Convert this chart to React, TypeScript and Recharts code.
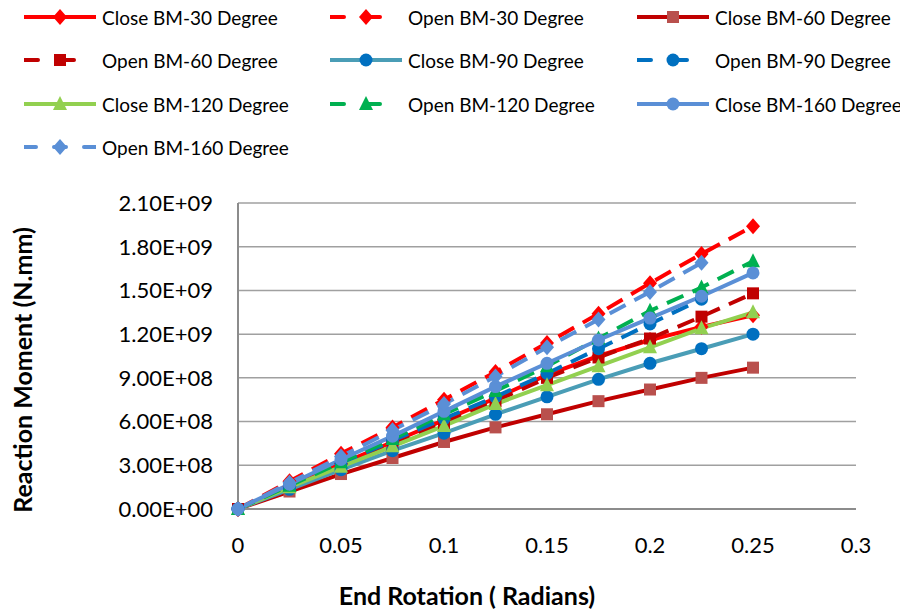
import React from "react";
import { CartesianGrid, Line, LineChart, XAxis, YAxis } from "recharts";

// end rotation (radians) for each load step
const rotation = [0, 0.025, 0.05, 0.075, 0.1, 0.125, 0.15, 0.175, 0.2, 0.225, 0.25];

// reaction moment (N.mm)
const closeBM30 = [0, 1.55e8, 3.1e8, 4.6e8, 6.1e8, 7.6e8, 9.2e8, 1.05e9, 1.16e9, 1.25e9, 1.33e9];
const openBM30 = [0, 1.9e8, 3.8e8, 5.6e8, 7.5e8, 9.4e8, 1.14e9, 1.34e9, 1.55e9, 1.75e9, 1.94e9];
const closeBM60 = [0, 1.2e8, 2.4e8, 3.5e8, 4.6e8, 5.6e8, 6.5e8, 7.4e8, 8.2e8, 9.0e8, 9.7e8];
const openBM60 = [0, 1.5e8, 2.9e8, 4.4e8, 5.9e8, 7.4e8, 9.0e8, 1.04e9, 1.17e9, 1.32e9, 1.48e9];
const closeBM90 = [0, 1.35e8, 2.7e8, 4.0e8, 5.2e8, 6.5e8, 7.7e8, 8.9e8, 1.0e9, 1.1e9, 1.2e9];
const openBM90 = [0, 1.6e8, 3.1e8, 4.7e8, 6.2e8, 7.7e8, 9.3e8, 1.1e9, 1.27e9, 1.44e9, null];
const closeBM120 = [0, 1.5e8, 2.9e8, 4.3e8, 5.7e8, 7.2e8, 8.5e8, 9.8e8, 1.11e9, 1.24e9, 1.35e9];
const openBM120 = [0, 1.6e8, 3.2e8, 4.8e8, 6.5e8, 8.1e8, 9.8e8, 1.17e9, 1.36e9, 1.52e9, 1.7e9];
const closeBM160 = [0, 1.7e8, 3.4e8, 5.0e8, 6.7e8, 8.4e8, 1.0e9, 1.16e9, 1.31e9, 1.46e9, 1.62e9];
const openBM160 = [0, 1.8e8, 3.6e8, 5.4e8, 7.2e8, 9.1e8, 1.11e9, 1.3e9, 1.49e9, 1.69e9, null];

const xTicks = [0, 0.05, 0.1, 0.15, 0.2, 0.25, 0.3];
const yTicks = [0, 3e8, 6e8, 9e8, 1.2e9, 1.5e9, 1.8e9, 2.1e9];
const xMinorTicks = Array.from({ length: 31 }, (_, i) => i / 100);
const yMinorTicks = Array.from({ length: 36 }, (_, i) => i * 6e7);

type Shape = "diamond" | "square" | "circle" | "triangle";

type SeriesDef = {
  key: string;
  name: string;
  values: (number | null)[];
  color: string;
  marker: string;
  shape: Shape;
  dashed?: boolean;
};

const series: SeriesDef[] = [
  { key: "c30", name: "Close BM-30 Degree", values: closeBM30, color: "#ff0000", marker: "#ff0000", shape: "diamond" },
  { key: "o30", name: "Open BM-30 Degree", values: openBM30, color: "#ff0000", marker: "#ff0000", shape: "diamond", dashed: true },
  { key: "c60", name: "Close BM-60 Degree", values: closeBM60, color: "#c00000", marker: "#b9504d", shape: "square" },
  { key: "o60", name: "Open BM-60 Degree", values: openBM60, color: "#c00000", marker: "#c00000", shape: "square", dashed: true },
  { key: "c90", name: "Close BM-90 Degree", values: closeBM90, color: "#4a9db6", marker: "#0070c0", shape: "circle" },
  { key: "o90", name: "Open BM-90 Degree", values: openBM90, color: "#0070c0", marker: "#0070c0", shape: "circle", dashed: true },
  { key: "c120", name: "Close BM-120 Degree", values: closeBM120, color: "#92d050", marker: "#92d050", shape: "triangle" },
  { key: "o120", name: "Open BM-120 Degree", values: openBM120, color: "#00b050", marker: "#00b050", shape: "triangle", dashed: true },
  { key: "c160", name: "Close BM-160 Degree", values: closeBM160, color: "#5a8fd6", marker: "#5a8fd6", shape: "circle" },
  { key: "o160", name: "Open BM-160 Degree", values: openBM160, color: "#5a8fd6", marker: "#5a8fd6", shape: "diamond", dashed: true },
];

const data = rotation.map((x, i) => {
  const row: Record<string, number | null> = { x };
  series.forEach((s) => {
    row[s.key] = s.values[i];
  });
  return row;
});

const FONT = "Lato, 'Open Sans', sans-serif";
const AXIS = "#8c8c8c";

function fmtSci(v: number) {
  const [m, e] = v.toExponential(2).split("e");
  const n = Math.abs(Number(e));
  return `${m}E${Number(e) < 0 ? "-" : "+"}${n < 10 ? "0" + n : n}`;
}

function Marker({ cx, cy, shape, fill }: { cx?: number; cy?: number; shape: Shape; fill: string }) {
  if (cx == null || cy == null || isNaN(cx) || isNaN(cy)) return null;
  if (shape === "diamond")
    return <path d={`M${cx},${cy - 8}L${cx + 7},${cy}L${cx},${cy + 8}L${cx - 7},${cy}Z`} fill={fill} />;
  if (shape === "square") return <rect x={cx - 6} y={cy - 6} width={12} height={12} fill={fill} />;
  if (shape === "triangle") return <path d={`M${cx},${cy - 8}L${cx + 7},${cy + 6}L${cx - 7},${cy + 6}Z`} fill={fill} />;
  return <circle cx={cx} cy={cy} r={6.5} fill={fill} />;
}

const legendCols = [24, 330, 637];
const legendRows = [17, 60, 104, 147];

function LegendIcon({ s }: { s: SeriesDef }) {
  return (
    <svg width={72} height={24} style={{ display: "block" }}>
      <line
        x1={0}
        y1={12}
        x2={72}
        y2={12}
        stroke={s.color}
        strokeWidth={4}
        strokeLinecap="round"
        strokeDasharray={s.dashed ? (s.key === "o160" ? "12 18" : "14 22") : undefined}
      />
      <Marker cx={36} cy={12} shape={s.shape} fill={s.marker} />
    </svg>
  );
}

export default function App() {
  return (
    <div style={{ position: "absolute", left: 0, top: 0, width: 900, height: 609, background: "#fff", fontFamily: FONT }}>
      {series.map((s, i) => (
        <div
          key={s.key}
          style={{
            position: "absolute",
            left: legendCols[i % 3],
            top: legendRows[Math.floor(i / 3)] - 12,
            height: 24,
            display: "flex",
            alignItems: "center",
            whiteSpace: "nowrap",
          }}
        >
          <LegendIcon s={s} />
          <span style={{ marginLeft: 6, fontSize: 19, color: "#000" }}>{s.name}</span>
        </div>
      ))}

      <LineChart width={900} height={609} data={data} margin={{ top: 203, right: 44, bottom: 70, left: 0 }}>
        <CartesianGrid vertical={false} stroke="#a0a0a0" strokeWidth={1.5} />
        <XAxis
          type="number"
          dataKey="x"
          domain={[0, 0.3]}
          ticks={xTicks}
          interval={0}
          tickFormatter={(v: number) => String(v)}
          tickLine={false}
          tickSize={0}
          tickMargin={28}
          height={30}
          axisLine={{ stroke: AXIS, strokeWidth: 2 }}
          tick={{ fontSize: 22, fill: "#000", fontFamily: FONT }}
        />
        <XAxis
          xAxisId="minor"
          type="number"
          dataKey="x"
          domain={[0, 0.3]}
          ticks={xMinorTicks}
          interval={0}
          mirror
          height={0}
          axisLine={false}
          tick={false}
          tickSize={5}
          tickLine={{ stroke: AXIS, strokeWidth: 1.5 }}
        />
        <XAxis
          xAxisId="major"
          type="number"
          dataKey="x"
          domain={[0, 0.3]}
          ticks={xTicks}
          interval={0}
          mirror
          height={0}
          axisLine={false}
          tick={false}
          tickSize={8}
          tickLine={{ stroke: AXIS, strokeWidth: 1.5 }}
        />
        <YAxis
          type="number"
          domain={[0, 2.1e9]}
          ticks={yTicks}
          interval={0}
          width={238}
          tickFormatter={fmtSci}
          tickLine={false}
          tickSize={0}
          tickMargin={25}
          axisLine={{ stroke: AXIS, strokeWidth: 2 }}
          tick={{ fontSize: 22, fill: "#000", fontFamily: FONT }}
        />
        <YAxis
          yAxisId="minor"
          type="number"
          domain={[0, 2.1e9]}
          ticks={yMinorTicks}
          interval={0}
          mirror
          width={0}
          axisLine={false}
          tick={false}
          tickSize={5}
          tickLine={{ stroke: AXIS, strokeWidth: 1.5 }}
        />
        {series.map((s) => (
          <Line
            key={s.key}
            dataKey={s.key}
            name={s.name}
            type="linear"
            stroke={s.color}
            strokeWidth={4}
            strokeDasharray={s.dashed ? "18 10" : undefined}
            isAnimationActive={false}
            connectNulls={false}
            activeDot={false}
            dot={(p: any) => <Marker key={`${s.key}-${p.index}`} cx={p.cx} cy={p.cy} shape={s.shape} fill={s.marker} />}
          />
        ))}
      </LineChart>

      <div
        style={{
          position: "absolute",
          left: 467,
          top: 595,
          transform: "translate(-50%, -50%)",
          fontSize: 25,
          fontWeight: 700,
          whiteSpace: "nowrap",
        }}
      >
        End Rotation ( Radians)
      </div>
      <div
        style={{
          position: "absolute",
          left: 22,
          top: 370,
          transform: "translate(-50%, -50%) rotate(-90deg)",
          fontSize: 25,
          fontWeight: 700,
          whiteSpace: "nowrap",
        }}
      >
        Reaction Moment (N.mm)
      </div>
    </div>
  );
}
